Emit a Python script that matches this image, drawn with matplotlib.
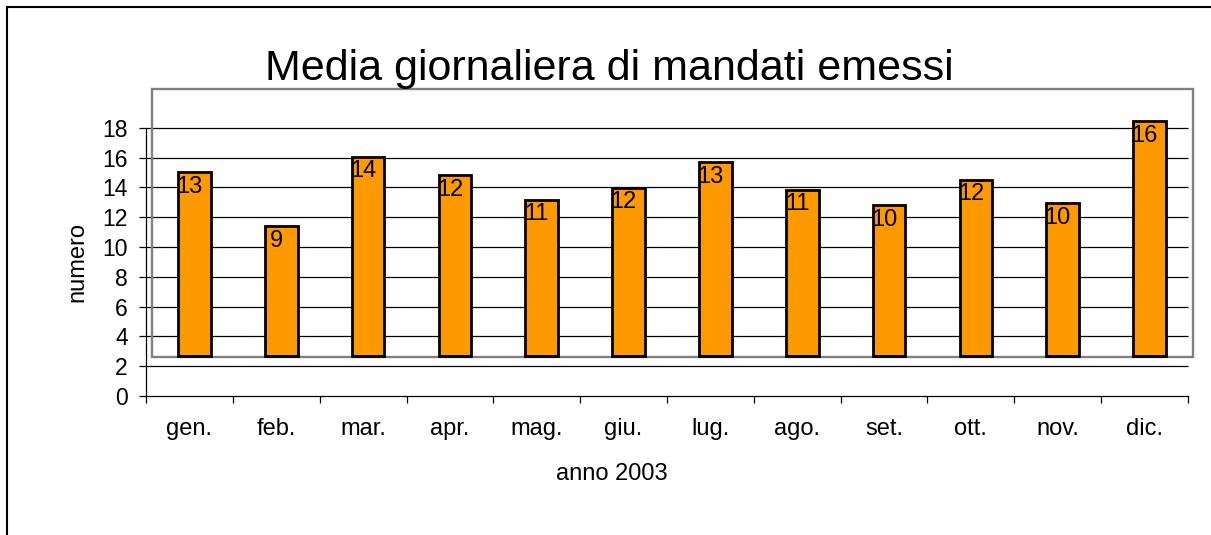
import matplotlib
matplotlib.use("Agg")
import matplotlib.pyplot as plt
from matplotlib.patches import Rectangle
import numpy as np

plt.rcParams['font.family'] = ['Liberation Sans', 'DejaVu Sans']

months = ["gen.", "feb.", "mar.", "apr.", "mag.", "giu.", "lug.", "ago.", "set.", "ott.", "nov.", "dic."]
values = [12.57, 8.93, 13.60, 12.35, 10.70, 11.52, 13.22, 11.37, 10.34, 12.06, 10.47, 15.97]
yticks = [0, 2, 4, 6, 8, 10, 12, 14, 16, 18]
title = "Media giornaliera di mandati emessi"
xlabel = "anno 2003"
ylabel = "numero"

# 3D-effect geometry (back wall offset, in value units)
DEPTH = 2.45
FLOOR = 2.66

W, H = 1211, 535
fig = plt.figure(figsize=(W / 100, H / 100), dpi=100)

def fx(px):
    return px / W

def fy(py):
    return 1 - py / H

ax_l, ax_r, ax_b, ax_t = 146, 1193, 396, 89.3
ax = fig.add_axes([fx(ax_l), fy(ax_b), fx(ax_r - ax_l), (ax_b - ax_t) / H])
ax.set_facecolor("none")

ppu = (396 - 127.7) / 18.0
catw = (1188 - 146) / 12.0
ax.set_ylim(0, (ax_b - ax_t) / ppu)
ax.set_xlim(-0.5, -0.5 + (ax_r - ax_l) / catw)

x = np.arange(len(months))

# gridlines
ax.hlines(yticks[1:], -0.5, 11.5, colors="#000000", linewidth=0.9, zorder=1)

# back wall
wall_x0 = -0.5 + (151.7 - 146) / catw
wall = Rectangle((wall_x0, FLOOR - 0.02), ax.get_xlim()[1] - wall_x0, ax.get_ylim()[1] - FLOOR + 0.02,
                 fill=False, edgecolor="#808080", linewidth=1.7, clip_on=False, zorder=2)
ax.add_patch(wall)

tops = [v + DEPTH for v in values]
heights = [t - FLOOR for t in tops]
bars = ax.bar(x + 5.0 / catw, heights, width=0.375, bottom=FLOOR, color="#FF9900",
              edgecolor="#000000", linewidth=2.0, zorder=3)

for xi, t, v in zip(x, tops, values):
    ax.annotate(f"{v:.0f}", xy=(xi, t), xytext=(0, -2.5), textcoords="offset points",
                ha="center", va="top", fontsize=17, color="#000000", zorder=4)

# axes
for s in ["top", "right"]:
    ax.spines[s].set_visible(False)
ax.spines["left"].set_bounds(0, 18)
ax.spines["bottom"].set_bounds(-0.5, 11.5)
ax.spines["left"].set_color("#000000")
ax.spines["bottom"].set_color("#000000")
ax.spines["left"].set_linewidth(0.9)
ax.spines["bottom"].set_linewidth(0.9)

ax.set_yticks(yticks)
ax.set_yticklabels([str(t) for t in yticks])
ax.tick_params(axis="y", direction="out", length=5, width=0.9, pad=8, labelsize=16.5)

ax.set_xticks(np.arange(-0.5, 12.0, 1.0))
ax.set_xticklabels([])
ax.tick_params(axis="x", which="major", direction="out", length=5, width=0.9)
ax.set_xticks(x, minor=True)
ax.set_xticklabels(months, minor=True)
ax.tick_params(axis="x", which="minor", length=0, pad=16, labelsize=17)

fig.text(fx(609), fy(80), title, ha="center", va="baseline", fontsize=31)
fig.text(fx(612), fy(480), xlabel, ha="center", va="baseline", fontsize=17)
fig.text(fx(77), fy(261.7), ylabel, ha="center", va="center", rotation=90, fontsize=17)

# chart border
fig.patches.append(Rectangle((fx(7), -0.2), 2.0, fy(7) + 0.2, transform=fig.transFigure,
                             fill=False, edgecolor="#000000", linewidth=1.5, figure=fig))

fig.savefig("out.png", dpi=100)
